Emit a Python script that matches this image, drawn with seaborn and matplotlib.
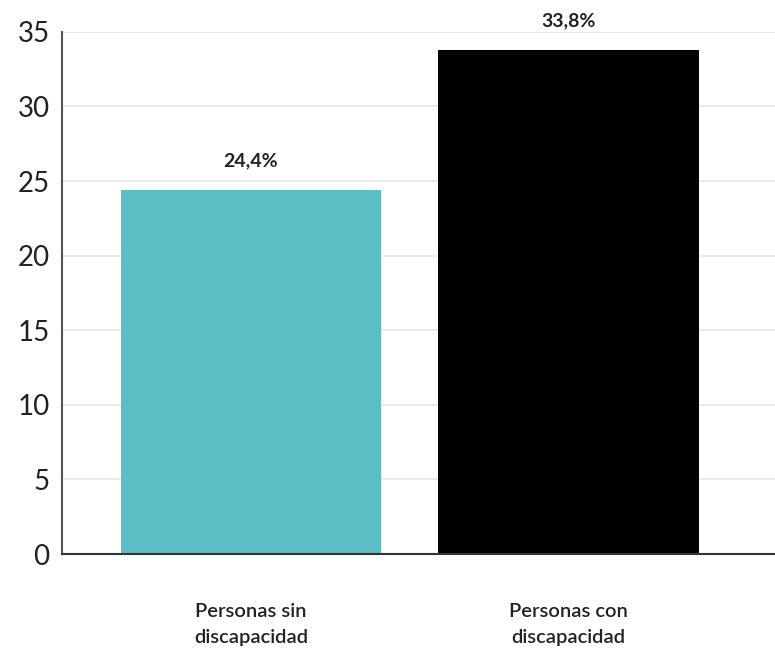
import matplotlib
matplotlib.use("Agg")
import matplotlib.pyplot as plt
import seaborn as sns
import pandas as pd

categories = ["Personas sin\ndiscapacidad", "Personas con\ndiscapacidad"]
values = [24.4, 33.8]
value_labels = ["24,4%", "33,8%"]
yticks = [0, 5, 10, 15, 20, 25, 30, 35]
colors = ["#5BBEC4", "#000000"]

sns.set_theme(style="white")
plt.rcParams["font.family"] = ["Lato", "DejaVu Sans"]

df = pd.DataFrame({"cat": categories, "val": values})

fig = plt.figure(figsize=(7.75, 6.51), dpi=100)
ax = fig.add_axes([0.08, 0.149, 0.92, 0.802])

sns.barplot(data=df, x="cat", y="val", hue="cat", palette=colors,
            width=0.82, legend=False, ax=ax, saturation=1, linewidth=0)

ax.set_ylim(0, 35)
ax.set_xlim(-0.595, 1.65)
ax.set_yticks(yticks)
ax.set_yticklabels([str(t) for t in yticks], fontsize=20, color="#222222")
ax.yaxis.grid(True, color="#e8e8e8", linewidth=1.3)
ax.set_axisbelow(True)
ax.set_xlabel("")
ax.set_ylabel("")
ax.tick_params(axis="y", length=0, pad=9)
ax.tick_params(axis="x", length=0, pad=35)
for lbl in ax.get_xticklabels():
    lbl.set_fontsize(14.5)
    lbl.set_fontweight("semibold")
    lbl.set_color("#222222")
    lbl.set_linespacing(1.65)

for s in ["top", "right"]:
    ax.spines[s].set_visible(False)
ax.spines["left"].set_color("#555555")
ax.spines["left"].set_linewidth(1.5)
ax.spines["bottom"].set_color("#333333")
ax.spines["bottom"].set_linewidth(1.5)

for i, (v, t) in enumerate(zip(values, value_labels)):
    ax.annotate(t, xy=(i, v), xytext=(0, 21), textcoords="offset points",
                ha="center", va="center", fontsize=14, fontweight="bold",
                color="#222222")

fig.savefig("out.png", dpi=100)
